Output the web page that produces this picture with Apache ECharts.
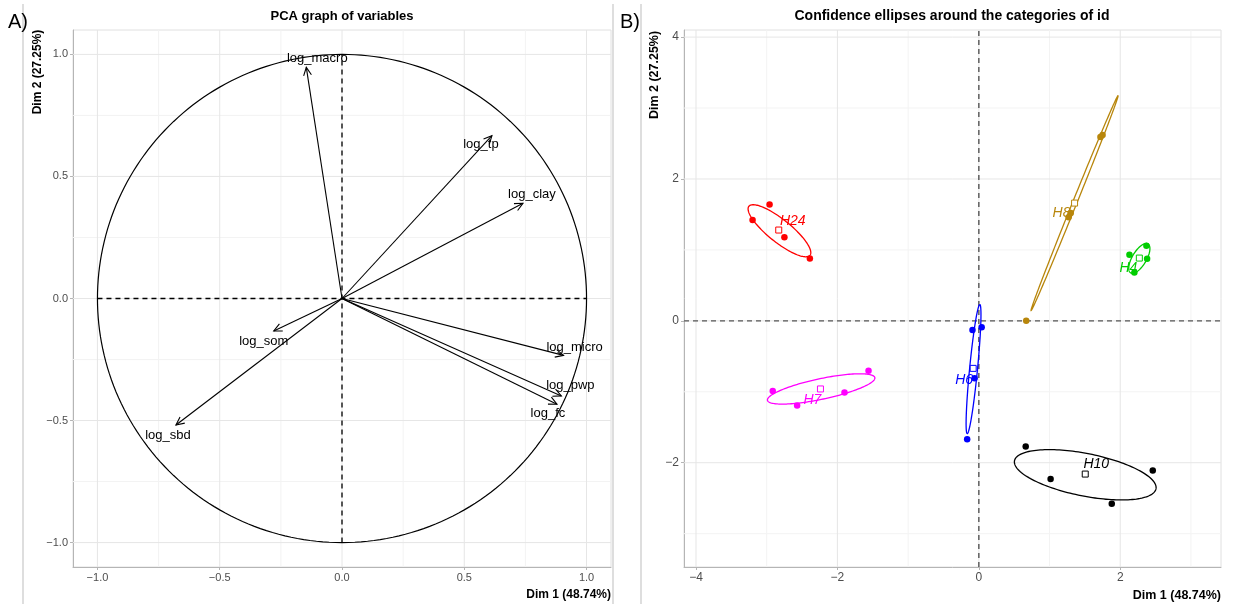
<!DOCTYPE html>
<html><head><meta charset="utf-8">
<script src="https://cdn.jsdelivr.net/npm/echarts@6/dist/echarts.min.js"></script>
<style>html,body{margin:0;padding:0;background:#fff}#c{width:1233px;height:604px}</style>
</head><body><div id="c"></div>
<script>
// ---------- Panel A: PCA graph of variables ----------
const varNames = ['log_macro','log_tp','log_clay','log_micro','log_pwp','log_fc','log_som','log_sbd'];
const varDim1  = [-0.146, 0.613, 0.740, 0.906, 0.897, 0.879, -0.279, -0.679];
const varDim2  = [ 0.947, 0.667, 0.390, -0.233, -0.399, -0.433, -0.133, -0.518];
const ticksA      = [-1.0, -0.5, 0.0, 0.5, 1.0];
const minorTicksA = [-0.75, -0.25, 0.25, 0.75];

// ---------- Panel B: confidence ellipses around categories of id ----------
const ids = ['H10','H24','H4','H6','H7','H8'];
const H10_x = [0.663, 1.015, 1.880, 2.460];
const H10_y = [-1.77, -2.23, -2.58, -2.11];
const H24_x = [-3.20, -2.96, -2.75, -2.39];
const H24_y = [1.42, 1.64, 1.18, 0.88];
const H4_x  = [2.13, 2.37, 2.38, 2.20];
const H4_y  = [0.93, 1.06, 0.875, 0.68];
const H6_x  = [-0.09, 0.04, -0.06, -0.165];
const H6_y  = [-0.13, -0.09, -0.81, -1.67];
const H7_x  = [-2.915, -2.57, -1.90, -1.56];
const H7_y  = [-0.99, -1.195, -1.01, -0.705];
const H8_x  = [0.67, 1.27, 1.30, 1.72, 1.75];
const H8_y  = [0.00, 1.46, 1.52, 2.59, 2.62];
const meanX = [1.505, -2.83, 2.27, -0.08, -2.24, 1.354];
const meanY = [-2.16, 1.28, 0.885, -0.67, -0.96, 1.66];
// ellipses: centre, semi-axes, orientation (degrees)
const ellCX    = [1.505, -2.82, 2.27, -0.075, -2.23, 1.354];
const ellCY    = [-2.17, 1.27, 0.88, -0.68, -0.96, 1.66];
const ellA     = [1.02, 0.553, 0.238, 0.914, 0.776, 1.636];
const ellB     = [0.30, 0.16, 0.10, 0.056, 0.145, 0.03];
const ellAngle = [-11.2, -38.6, 59, 84.4, 11.9, 67.9];
const ticksBx = [-4, -2, 0, 2];
const minorTicksBx = [-3, -1, 1, 3];
const ticksBy = [-2, 0, 2, 4];
const minorTicksBy = [-3, -1, 1, 3];

// ---------- styles / layout ----------
const FONT = '"Liberation Sans", Arial, sans-serif';
const idColors = ['#000000', '#ff0000', '#00cd00', '#0000ff', '#ff00ff', '#b8860b'];
const varLabelOff = [[11,-9],[-11,9],[9,-9],[11,-8],[9,-10],[-9,9],[-10,10],[-8,10]];
const idLabelOff = [[11,-10],[14,-9],[-11,10],[-9,12],[-8,11],[-13,10]];
const XA = [-1.1, 1.1], YA = [-1.1, 1.1];
const XB = [-4.17, 3.425], YB = [-3.47, 4.10];
const idX = [H10_x, H24_x, H4_x, H6_x, H7_x, H8_x];
const idY = [H10_y, H24_y, H4_y, H6_y, H7_y, H8_y];

const fmtMinus = v => String(v).replace('-', '\u2212');

function gridLinesRender(majX, minX, majY, minY, xr, yr) {
  return function (params, api) {
    const ch = [];
    const add = (p, q, c) => ch.push({type:'line', shape:{x1:p[0],y1:p[1],x2:q[0],y2:q[1]}, style:{stroke:c, lineWidth:1}});
    minX.forEach(v => add(api.coord([v, yr[0]]), api.coord([v, yr[1]]), '#f3f3f3'));
    minY.forEach(v => add(api.coord([xr[0], v]), api.coord([xr[1], v]), '#f3f3f3'));
    majX.forEach(v => add(api.coord([v, yr[0]]), api.coord([v, yr[1]]), '#e6e6e6'));
    majY.forEach(v => add(api.coord([xr[0], v]), api.coord([xr[1], v]), '#e6e6e6'));
    return {type:'group', children: ch};
  };
}

function circleRender(params, api) {
  const pts = [];
  for (let k = 0; k <= 240; k++) {
    const t = k / 240 * 2 * Math.PI;
    pts.push(api.coord([Math.cos(t), Math.sin(t)]));
  }
  const h0 = api.coord([-1, 0]), h1 = api.coord([1, 0]);
  const v0 = api.coord([0, -1]), v1 = api.coord([0, 1]);
  return {type:'group', children:[
    {type:'polyline', shape:{points:pts}, style:{stroke:'#000', fill:'none', lineWidth:1.2}},
    {type:'line', shape:{x1:h0[0],y1:h0[1],x2:h1[0],y2:h1[1]}, style:{stroke:'#000', lineWidth:1.3, lineDash:[5,4]}},
    {type:'line', shape:{x1:v0[0],y1:v0[1],x2:v1[0],y2:v1[1]}, style:{stroke:'#000', lineWidth:1.3, lineDash:[5,4]}}
  ]};
}

function arrowRender(params, api) {
  const i = params.dataIndex;
  const p0 = api.coord([0, 0]), p1 = api.coord([varDim1[i], varDim2[i]]);
  const ang = Math.atan2(p1[1] - p0[1], p1[0] - p0[0]);
  const L = 9, w = 0.45;
  const a = [p1[0] - L * Math.cos(ang - w), p1[1] - L * Math.sin(ang - w)];
  const b = [p1[0] - L * Math.cos(ang + w), p1[1] - L * Math.sin(ang + w)];
  return {type:'group', children:[
    {type:'line', shape:{x1:p0[0],y1:p0[1],x2:p1[0],y2:p1[1]}, style:{stroke:'#000', lineWidth:1.1}},
    {type:'polyline', shape:{points:[a, p1, b]}, style:{stroke:'#000', fill:'none', lineWidth:1.1}},
    {type:'text', x:p1[0] + varLabelOff[i][0], y:p1[1] + varLabelOff[i][1],
      style:{text:varNames[i], fill:'#000', font:'13px ' + FONT, align:'center', verticalAlign:'middle', textAlign:'center', textVerticalAlign:'middle'}}
  ]};
}

function zeroLinesB(params, api) {
  const h0 = api.coord([XB[0], 0]), h1 = api.coord([XB[1], 0]);
  const v0 = api.coord([0, YB[0]]), v1 = api.coord([0, YB[1]]);
  return {type:'group', children:[
    {type:'line', shape:{x1:h0[0],y1:h0[1],x2:h1[0],y2:h1[1]}, style:{stroke:'#555', lineWidth:1.4, lineDash:[5,4]}},
    {type:'line', shape:{x1:v0[0],y1:v0[1],x2:v1[0],y2:v1[1]}, style:{stroke:'#555', lineWidth:1.4, lineDash:[5,4]}}
  ]};
}

function ellipseRender(params, api) {
  const i = params.dataIndex;
  const th = ellAngle[i] * Math.PI / 180;
  const pts = [];
  for (let k = 0; k <= 160; k++) {
    const t = k / 160 * 2 * Math.PI;
    const ex = ellA[i] * Math.cos(t), ey = ellB[i] * Math.sin(t);
    pts.push(api.coord([ellCX[i] + ex * Math.cos(th) - ey * Math.sin(th),
                        ellCY[i] + ex * Math.sin(th) + ey * Math.cos(th)]));
  }
  return {type:'polyline', shape:{points:pts}, style:{stroke:idColors[i], fill:'none', lineWidth:1.3}};
}

function idLabelRender(params, api) {
  const i = params.dataIndex;
  const p = api.coord([meanX[i], meanY[i]]);
  return {type:'text', x:p[0] + idLabelOff[i][0], y:p[1] + idLabelOff[i][1],
    style:{text:ids[i], fill:idColors[i], font:'italic 14px ' + FONT, align:'center', verticalAlign:'middle', textAlign:'center', textVerticalAlign:'middle'}};
}

const axisCommon = {
  axisLine: {show:true, onZero:false, lineStyle:{color:'#b5b5b5', width:1}},
  axisTick: {show:true, length:3, lineStyle:{color:'#b5b5b5'}},
  splitLine: {show:false},
  axisLabel: {color:'#4d4d4d', fontSize:11, fontFamily:FONT, margin:5}
};
function mkAxis(gi, range, ticks, fmt, fs) {
  return Object.assign({}, axisCommon, {
    type:'value', gridIndex:gi, min:range[0], max:range[1],
    axisTick: Object.assign({}, axisCommon.axisTick, {customValues: ticks}),
    axisLabel: Object.assign({}, axisCommon.axisLabel, {customValues: ticks, formatter: fmt, fontSize: fs})
  });
}

const series = [
  {type:'custom', xAxisIndex:0, yAxisIndex:0, z:1, silent:true, data:[[0,0]],
    renderItem: gridLinesRender(ticksA, minorTicksA, ticksA, minorTicksA, XA, YA)},
  {type:'custom', xAxisIndex:0, yAxisIndex:0, z:2, silent:true, data:[[0,0]], renderItem: circleRender},
  {type:'custom', xAxisIndex:0, yAxisIndex:0, z:3, silent:true,
    data: varDim1.map((v, i) => [v, varDim2[i]]), renderItem: arrowRender},
  {type:'custom', xAxisIndex:1, yAxisIndex:1, z:1, silent:true, data:[[0,0]],
    renderItem: gridLinesRender(ticksBx, minorTicksBx, ticksBy, minorTicksBy, XB, YB)},
  {type:'custom', xAxisIndex:1, yAxisIndex:1, z:2, silent:true, data:[[0,0]], renderItem: zeroLinesB},
  {type:'custom', xAxisIndex:1, yAxisIndex:1, z:3, silent:true, clip:true,
    data: ellCX.map((v, i) => [v, ellCY[i]]), renderItem: ellipseRender}
];
ids.forEach((id, i) => {
  series.push({type:'scatter', name:id, xAxisIndex:1, yAxisIndex:1, z:4, silent:true,
    symbol:'circle', symbolSize:6.5, itemStyle:{color:idColors[i], opacity:1},
    data: idX[i].map((v, k) => [v, idY[i][k]])});
});
series.push({type:'scatter', xAxisIndex:1, yAxisIndex:1, z:5, silent:true,
  symbol:'rect', symbolSize:6,
  data: meanX.map((v, i) => ({value:[v, meanY[i]], itemStyle:{color:'#fff', borderColor:idColors[i], borderWidth:1, opacity:1}}))});
series.push({type:'custom', xAxisIndex:1, yAxisIndex:1, z:6, silent:true,
  data: meanX.map((v, i) => [v, meanY[i]]), renderItem: idLabelRender});

const txt = (x, y, text, font, extra) => Object.assign({type:'text', x, y, z:10, silent:true,
  style:{text, font, fill:'#000', align:'center', verticalAlign:'middle', textAlign:'center', textVerticalAlign:'middle'}}, extra || {});
const vline = x => ({type:'line', z:10, silent:true, shape:{x1:x, y1:4, x2:x, y2:604}, style:{stroke:'#bdbdbd', lineWidth:1}});

const option = {
  animation: false,
  backgroundColor: '#ffffff',
  grid: [
    {left:73, right:1233 - 611, top:30, bottom:604 - 567, show:true, borderColor:'#e0e0e0', borderWidth:1, backgroundColor:'transparent'},
    {left:684, right:1233 - 1221, top:30, bottom:604 - 567, show:true, borderColor:'#e0e0e0', borderWidth:1, backgroundColor:'transparent'}
  ],
  xAxis: [
    mkAxis(0, XA, ticksA, v => fmtMinus(v.toFixed(1)), 11),
    mkAxis(1, XB, ticksBx, v => fmtMinus(v), 12)
  ],
  yAxis: [
    mkAxis(0, YA, ticksA, v => fmtMinus(v.toFixed(1)), 11),
    mkAxis(1, YB, ticksBy, v => fmtMinus(v), 12)
  ],
  graphic: [
    vline(23), vline(613), vline(641),
    txt(342, 16, 'PCA graph of variables', 'bold 13px ' + FONT),
    txt(952, 16, 'Confidence ellipses around the categories of id', 'bold 14px ' + FONT),
    txt(8, 22, 'A)', '20px ' + FONT, {style:{text:'A)', font:'20px ' + FONT, fill:'#000', align:'left', verticalAlign:'middle', textAlign:'left', textVerticalAlign:'middle'}}),
    txt(620, 22, 'B)', '20px ' + FONT, {style:{text:'B)', font:'20px ' + FONT, fill:'#000', align:'left', verticalAlign:'middle', textAlign:'left', textVerticalAlign:'middle'}}),
    txt(38, 72, 'Dim 2 (27.25%)', 'bold 12px ' + FONT, {rotation: Math.PI / 2}),
    txt(655, 75, 'Dim 2 (27.25%)', 'bold 12.5px ' + FONT, {rotation: Math.PI / 2}),
    {type:'text', x:611, y:595, z:10, silent:true, style:{text:'Dim 1 (48.74%)', font:'bold 12px ' + FONT, fill:'#000', align:'right', verticalAlign:'middle', textAlign:'right', textVerticalAlign:'middle'}},
    {type:'text', x:1221, y:596, z:10, silent:true, style:{text:'Dim 1 (48.74%)', font:'bold 12.5px ' + FONT, fill:'#000', align:'right', verticalAlign:'middle', textAlign:'right', textVerticalAlign:'middle'}}
  ],
  series
};
const chart = echarts.init(document.getElementById('c'));
chart.setOption(option);
</script>
</body></html>
